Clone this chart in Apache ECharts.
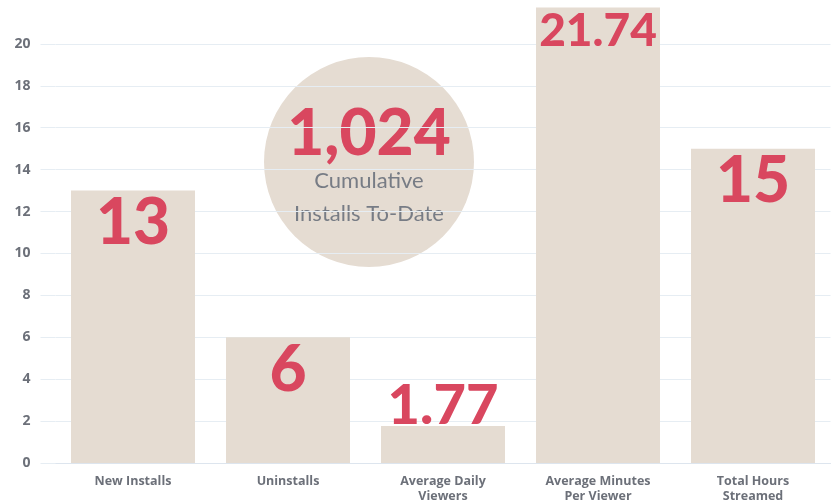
<!DOCTYPE html>
<html>
<head>
<meta charset="utf-8">
<script src="https://cdn.jsdelivr.net/npm/echarts@6/dist/echarts.min.js"></script>
<style>html,body{margin:0;padding:0;background:#fff;}#c{width:840px;height:504px;}</style>
</head>
<body>
<div id="c"></div>
<script>
const categories = ['New Installs', 'Uninstalls', 'Average Daily\nViewers', 'Average Minutes\nPer Viewer', 'Total Hours\nStreamed'];
const values = [13, 6, 1.77, 21.74, 15];
const valueLabels = ['13', '6', '1.77', '21.74', '15'];
const labelSizes = [64, 64, 56, 46, 64];
const labelOutside = [false, false, true, false, false];
const yMin = 0, yMax = 22, yInterval = 2;
const kpiValue = '1,024';
const kpiLines = ['Cumulative', 'Installs To-Date'];

const RED = '#d9475f', BAR = '#e5dcd2', GRAY = '#6c7079', GRID = '#e6edf3';
const chart = echarts.init(document.getElementById('c'));
chart.setOption({
  animation: false,
  grid: { left: 55.5, right: 9.5, top: 2, bottom: 40 },
  xAxis: {
    type: 'category', data: categories,
    axisLine: { lineStyle: { color: '#dde5ee', width: 1 } },
    axisTick: { show: false },
    axisLabel: { color: GRAY, fontFamily: 'Open Sans', fontWeight: 'bold', fontSize: 12.5, lineHeight: 15, margin: 11 }
  },
  yAxis: {
    type: 'value', min: yMin, max: yMax, interval: yInterval,
    axisLine: { show: false },
    axisTick: { show: true, length: 15, lineStyle: { color: GRID } },
    splitLine: { show: true, showMaxLine: false, lineStyle: { color: GRID } },
    axisLabel: { color: GRAY, fontFamily: 'Open Sans', fontWeight: 'bold', fontSize: 14, margin: 25, showMaxLabel: false }
  },
  series: [{
    type: 'bar',
    barCategoryGap: '20%',
    data: values.map((v, i) => ({
      value: v,
      label: {
        show: true,
        position: labelOutside[i] ? 'top' : 'insideTop',
        distance: labelOutside[i] ? -8 : 1,
        formatter: () => valueLabels[i],
        fontSize: labelSizes[i],
        fontFamily: 'Lato', fontWeight: 900, color: RED
      }
    })),
    itemStyle: { color: BAR }
  }],
  graphic: [{
    type: 'group', left: 264, top: 57,
    children: [
      { type: 'circle', shape: { cx: 105, cy: 105, r: 105 }, style: { fill: BAR } },
      { type: 'text', x: 105, y: 77, style: { text: kpiValue, fill: RED, font: '900 64px Lato', align: 'center', verticalAlign: 'middle' } },
      { type: 'text', x: 105, y: 124, style: { text: kpiLines[0], fill: '#777c85', font: '22px Lato', align: 'center', verticalAlign: 'middle' } },
      { type: 'text', x: 105, y: 157, style: { text: kpiLines[1], fill: '#777c85', font: '22px Lato', align: 'center', verticalAlign: 'middle' } }
    ]
  }]
});
</script>
</body>
</html>
